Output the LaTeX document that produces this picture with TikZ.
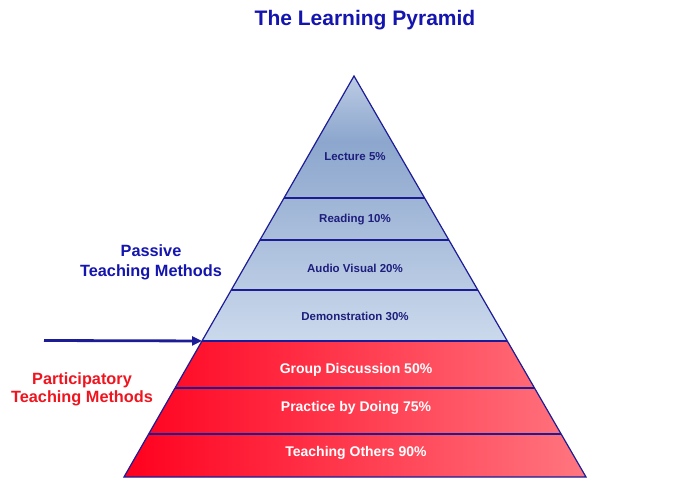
\documentclass[tikz,border=0pt]{standalone}
\usepackage{fontspec}
\setmainfont{Liberation Sans}
\usetikzlibrary{calc, arrows.meta}
\definecolor{pyrblue}{RGB}{28,28,150}
\definecolor{titleblue}{RGB}{20,20,175}
\definecolor{textnavy}{RGB}{30,30,125}
\definecolor{skytop}{RGB}{188,204,228}
\definecolor{skydark}{RGB}{140,166,205}
\definecolor{skybottom}{RGB}{203,217,236}
\definecolor{hotred}{RGB}{255,0,30}
\definecolor{softred}{RGB}{255,118,128}
\definecolor{partred}{RGB}{240,20,30}
\pgfdeclareverticalshading{passiveshade}{100bp}{color(0bp)=(skybottom); color(25bp)=(skybottom); color(62.7bp)=(skydark); color(75bp)=(skytop); color(100bp)=(skytop)}

\begin{document}
\begin{tikzpicture}[x=1pt, y=-1pt]
\useasboundingbox (0,0) rectangle (677,502);

% Pyramid corners and band edges
\coordinate (apex) at (354,76);
\coordinate (baseL) at (124,477);
\coordinate (baseR) at (586,477);
\foreach \name/\t in {lec/0.3042, rea/0.4090, aud/0.5337, dem/0.6608, grp/0.7781, pra/0.8928}{
    \coordinate (\name L) at ($(apex)!\t!(baseL)$);
    \coordinate (\name R) at ($(apex)!\t!(baseR)$);
}

\begin{scope}
    % Fill the two halves
    \shade[shading=passiveshade] (apex) -- (demL) -- (demR) -- cycle; % passive part
    \shade[left color=hotred, right color=softred] (demL) -- (baseL) -- (baseR) -- (demR) -- cycle; % participatory part

    % Outline and band lines
    \draw[pyrblue, line width=1.2pt, line join=miter] (apex) -- (baseL) -- (baseR) -- cycle;
    \foreach \name in {lec, rea, aud, dem, grp, pra}
        \draw[pyrblue, line width=1.2pt] (\name L) -- (\name R);

    % Labels inside the bands
    \node[textnavy, font=\fontsize{11.5}{13}\selectfont\bfseries] (lecture) at (355,157) {Lecture 5\%};
    \node[textnavy, font=\fontsize{11.5}{13}\selectfont\bfseries] (reading) at (355,220) {Reading 10\%};
    \node[textnavy, font=\fontsize{11.5}{13}\selectfont\bfseries] (audio) at (355,268) {Audio Visual 20\%};
    \node[textnavy, font=\fontsize{11.5}{13}\selectfont\bfseries] (demo) at (355,316) {Demonstration 30\%};
    \node[white, font=\fontsize{14}{16}\selectfont\bfseries] (group) at (356,370) {Group Discussion 50\%};
    \node[white, font=\fontsize{14}{16}\selectfont\bfseries] (practice) at (356,408) {Practice by Doing 75\%};
    \node[white, font=\fontsize{14}{16}\selectfont\bfseries] (others) at (356,453) {Teaching Others 90\%};
\end{scope}

% Title and side texts
\node[titleblue, font=\fontsize{21}{24}\selectfont\bfseries] (title) at (365,20) {The Learning Pyramid};
\node[titleblue, align=center, font=\fontsize{16.3}{20}\selectfont\bfseries] (passive) at (151,262) {Passive\\Teaching Methods};
\node[partred, align=center, font=\fontsize{16.3}{18}\selectfont\bfseries] (particip) at (82,389) {Participatory\\Teaching Methods};

% Arrow to the border of the two halves
\coordinate (arrowstart) at (44,340.5);
\draw[pyrblue, line width=2.8pt, -{Triangle[length=10pt, width=9pt]}] (arrowstart) -- (demL);
\end{tikzpicture}
\end{document}
